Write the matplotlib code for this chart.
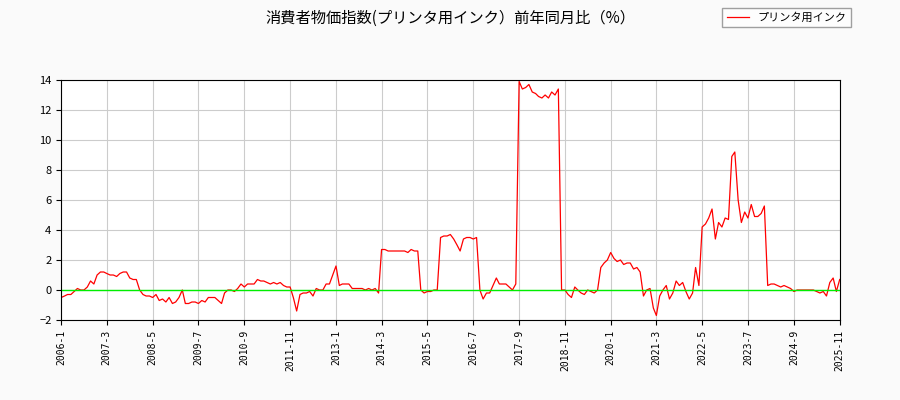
import numpy as np
import pandas as pd
import matplotlib
matplotlib.use("Agg")
import matplotlib.pyplot as plt

plt.rcParams['font.family'] = ['Noto Sans CJK JP', 'DejaVu Sans']

# --- data: year-on-year change (%), monthly 2006-1 .. 2025-11 ---
y2006 = [-0.5, -0.4, -0.3, -0.3, -0.1, 0.1, 0.0, 0.0, 0.2, 0.6, 0.4, 1.0]
y2007 = [1.2, 1.2, 1.1, 1.0, 1.0, 0.9, 1.1, 1.2, 1.2, 0.8, 0.7, 0.7]
y2008 = [0.0, -0.3, -0.4, -0.4, -0.5, -0.3, -0.7, -0.6, -0.8, -0.5, -0.9, -0.8]
y2009 = [-0.5, 0.0, -0.9, -0.9, -0.8, -0.8, -0.9, -0.7, -0.8, -0.5, -0.5, -0.5]
y2010 = [-0.7, -0.9, -0.2, 0.0, 0.0, -0.1, 0.1, 0.4, 0.2, 0.4, 0.4, 0.4]
y2011 = [0.7, 0.6, 0.6, 0.5, 0.4, 0.5, 0.4, 0.5, 0.3, 0.2, 0.2, -0.5]
y2012 = [-1.4, -0.3, -0.2, -0.2, -0.1, -0.4, 0.1, 0.0, 0.0, 0.4, 0.4, 1.0]
y2013 = [1.6, 0.3, 0.4, 0.4, 0.4, 0.1, 0.1, 0.1, 0.1, 0.0, 0.1, 0.0]
y2014 = [0.1, -0.2, 2.7, 2.7, 2.6, 2.6, 2.6, 2.6, 2.6, 2.6, 2.5, 2.7]
y2015 = [2.6, 2.6, 0.0, -0.2, -0.1, -0.1, 0.0, 0.0, 3.5, 3.6, 3.6, 3.7]
y2016 = [3.4, 3.0, 2.6, 3.4, 3.5, 3.5, 3.4, 3.5, 0.0, -0.6, -0.2, -0.2]
y2017 = [0.3, 0.8, 0.4, 0.4, 0.4, 0.2, 0.0, 0.4, 13.9, 13.4, 13.5, 13.7]
y2018 = [13.2, 13.1, 12.9, 12.8, 13.0, 12.8, 13.2, 13.0, 13.4, 0.0, 0.0, -0.3]
y2019 = [-0.5, 0.2, 0.0, -0.2, -0.3, 0.0, -0.1, -0.2, 0.0, 1.5, 1.8, 2.0]
y2020 = [2.5, 2.1, 1.9, 2.0, 1.7, 1.8, 1.8, 1.4, 1.5, 1.2, -0.4, 0.0]
y2021 = [0.1, -1.2, -1.7, -0.4, 0.0, 0.3, -0.6, -0.2, 0.6, 0.3, 0.5, -0.1]
y2022 = [-0.6, -0.2, 1.5, 0.3, 4.2, 4.4, 4.8, 5.4, 3.4, 4.5, 4.2, 4.8]
y2023 = [4.7, 8.9, 9.2, 6.0, 4.5, 5.2, 4.8, 5.7, 4.9, 4.9, 5.1, 5.6]
y2024 = [0.3, 0.4, 0.4, 0.3, 0.2, 0.3, 0.2, 0.1, -0.1, 0.0, 0.0, 0.0]
y2025 = [0.0, 0.0, 0.0, -0.1, -0.2, -0.1, -0.4, 0.5, 0.8, -0.1, 0.7]

values = (y2006 + y2007 + y2008 + y2009 + y2010 + y2011 + y2012 + y2013 + y2014 + y2015
          + y2016 + y2017 + y2018 + y2019 + y2020 + y2021 + y2022 + y2023 + y2024 + y2025)
dates = pd.date_range("2006-01-01", periods=len(values), freq="MS")

fig = plt.figure(figsize=(9, 4), dpi=100, facecolor="#fafafa")
ax = fig.add_axes([0.068, 0.2, 0.865, 0.6])

ax.plot(dates, values, color="red", linewidth=0.9, label="プリンタ用インク")
ax.axhline(0, color="#00ee00", linewidth=1.0)

# ticks every 14 months
tick_dates = dates[::14]
ax.set_xticks(tick_dates)
ax.set_xticklabels([f"{d.year}-{d.month}" for d in tick_dates], rotation=90,
                   fontsize=7, family="DejaVu Sans Mono")
ax.set_xlim(dates[0], dates[-1])
ax.set_ylim(-2, 14)
ax.set_yticks(range(-2, 15, 2))
ax.tick_params(axis="y", labelsize=8)
ax.grid(True, color="#cccccc", linewidth=0.8)

fig.suptitle("消費者物価指数(プリンタ用インク）前年同月比（%）", fontsize=11, y=0.975)
fig.legend(loc="upper right", bbox_to_anchor=(0.952, 0.995), fontsize=8,
           frameon=True, fancybox=False, edgecolor="#888888")

fig.savefig("out.png")
